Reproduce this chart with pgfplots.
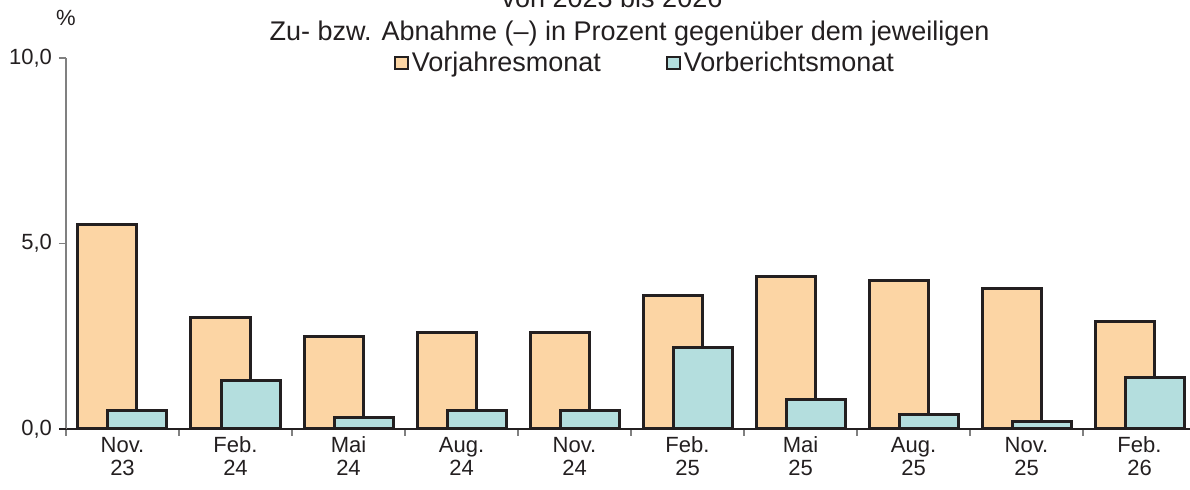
\documentclass[border=0pt]{standalone}
\usepackage{pgfplots}
\pgfplotsset{compat=1.18}
\usepackage{fontspec}
\setmainfont{Liberation Sans}
\definecolor{orangebar}{RGB}{252,213,164}
\definecolor{tealbar}{RGB}{180,222,222}
\definecolor{edge}{RGB}{35,31,32}
\definecolor{txt}{RGB}{35,31,32}
\begin{document}
\begin{tikzpicture}
\begin{axis}[
  scale only axis, width=565pt, height=185.5pt,
  xmin=-0.5, xmax=9.5, ymin=0, ymax=10,
  axis x line=bottom, axis y line=left,
  x axis line style={-, edge, line width=0.6pt},
  y axis line style={-, gray, line width=0.6pt},
  tick align=outside,
  ytick={0,5,10},
  major y tick style={gray, line width=0.6pt},
  major tick length=3.5pt,
  minor tick length=3.5pt,
  yticklabel style={/pgf/number format/fixed, /pgf/number format/fixed zerofill, /pgf/number format/precision=1, /pgf/number format/use comma, /pgf/number format/assume math mode=true},
  yticklabel style={font=\fontsize{11}{12}\selectfont, text=txt},
  xtick={0,...,9},
  xticklabels={{Nov.\\23},{Feb.\\24},{Mai\\24},{Aug.\\24},{Nov.\\24},{Feb.\\25},{Mai\\25},{Aug.\\25},{Nov.\\25},{Feb.\\26}},
  xticklabel style={align=center, font=\fontsize{11}{11.5}\selectfont, text=txt, yshift=3pt},
  major x tick style={draw=none},
  minor xtick={-0.5,0.5,...,9.5},
  minor x tick style={gray, line width=0.6pt},
  legend style={at={(axis description cs:0.5128,0.9865)}, anchor=center, draw=none, fill=none,
    legend columns=2, font=\fontsize{13.5}{14}\selectfont, text=txt,
    /tikz/every even column/.append style={column sep=31pt},
    /tikz/every odd column/.append style={column sep=0pt},
    nodes={inner xsep=1.5pt}},
  legend image code/.code={\draw[#1, line width=1pt] (0pt,-3.2pt) rectangle (6.4pt,3.2pt);},
  clip=false,
]
\addplot[ybar, bar width=29.5pt, bar shift=-7.5pt, fill=orangebar, draw=edge, line width=1.5pt] coordinates {
(0,5.5) (1,3.0) (2,2.5) (3,2.6) (4,2.6) (5,3.6) (6,4.1) (7,4.0) (8,3.8) (9,2.9)};
\addlegendentry{Vorjahresmonat}
\addplot[ybar, bar width=29.5pt, bar shift=7.5pt, fill=tealbar, draw=edge, line width=1.5pt] coordinates {
(0,0.5) (1,1.3) (2,0.3) (3,0.5) (4,0.5) (5,2.2) (6,0.8) (7,0.4) (8,0.2) (9,1.4)};
\addlegendentry{Vorberichtsmonat}
\draw[edge, line width=0.6pt] (axis description cs:-0.006,0) -- (axis description cs:0,0);
\node[anchor=base, font=\fontsize{13.5}{14}\selectfont, text=txt] at (axis description cs:0.4832,1.1348) {von 2023 bis 2026};
\node[anchor=base, font=\fontsize{13.5}{14}\selectfont, text=txt] at (axis description cs:0.4987,1.048) {Zu- bzw. Abnahme (–) in Prozent gegenüber dem jeweiligen};
\node[font=\fontsize{11}{12}\selectfont, text=txt] at (axis description cs:0,1.108) {\%};
\end{axis}
\pgfresetboundingbox
\useasboundingbox (-33pt,-30.5pt) rectangle (562pt,214.5pt);
\end{tikzpicture}
\end{document}
